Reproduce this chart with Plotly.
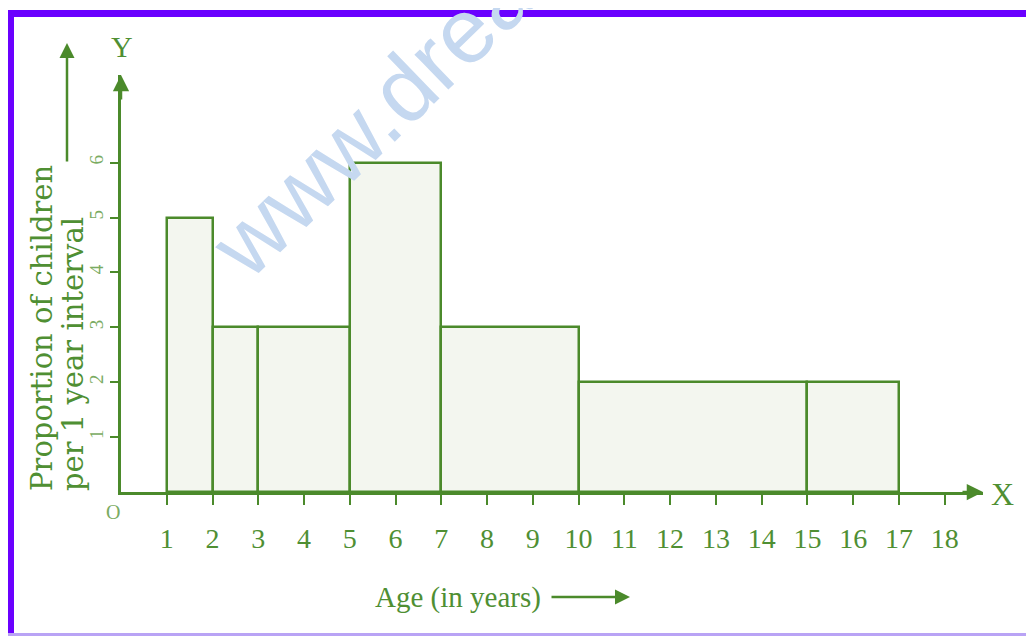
import plotly.graph_objects as go

# ---- data ----
class_start = [1, 2, 3, 5, 7, 10, 15]
class_end = [2, 3, 5, 7, 10, 15, 17]
proportion = [5, 3, 3, 6, 3, 2, 2]
x_ticks = list(range(1, 19))
y_ticks = [1, 2, 3, 4, 5, 6]

GREEN = "#4b8a2b"
TEXT_GREEN = "#4f8f33"
LIGHT_GREEN = "#7aab62"
FILL = "#f3f6ef"
PURPLE = "#6a00ff"
WATER = "#c5d8f0"

OFF = 8  # page body margin in the browser
W, H = 1034 - OFF, 636 - OFF
# plot area in screen (reference) pixels
SX0, SX1, SY0, SY1 = 121, 983, 75, 492
L = SX0 - OFF
T = SY0 - OFF
R = W - (SX1 - OFF)
B = H - (SY1 - OFF)
PW, PH = W - L - R, H - T - B
UX = 45.76
UY = 54.9
XMAX = PW / UX
YMAX = PH / UY


def px(x):
    return (x - SX0) / PW


def py(y):
    return (SY1 - y) / PH


centers = [(a + b) / 2 for a, b in zip(class_start, class_end)]
widths = [b - a for a, b in zip(class_start, class_end)]

fig = go.Figure()
fig.add_trace(go.Bar(
    x=centers, y=proportion, width=widths,
    marker=dict(color=FILL, line=dict(color=GREEN, width=2.5)),
    hoverinfo="skip", showlegend=False,
))

serif = "Liberation Serif"

fig.update_layout(
    width=W, height=H,
    margin=dict(l=L, r=R, t=T, b=B, pad=0, autoexpand=False),
    paper_bgcolor="white", plot_bgcolor="white",
    bargap=0,
    xaxis=dict(
        range=[0, XMAX], tickvals=x_ticks, ticktext=[str(v) for v in x_ticks],
        showgrid=False, zeroline=False, showline=True, linecolor=GREEN, linewidth=2.5,
        ticks="outside", ticklen=10, tickwidth=2, tickcolor=GREEN,
        tickfont=dict(family=serif, size=28, color=TEXT_GREEN),
        ticklabelstandoff=10, automargin=False,
    ),
    yaxis=dict(
        range=[0, YMAX], tickvals=y_ticks, ticktext=[str(v) for v in y_ticks],
        showgrid=False, zeroline=False, showline=True, linecolor=GREEN, linewidth=2.5,
        ticks="outside", ticklen=8, tickwidth=2, tickcolor=GREEN,
        tickangle=-90,
        tickfont=dict(family=serif, size=19, color=LIGHT_GREEN),
        ticklabelstandoff=0, automargin=False,
    ),
)


def label(xs, ys, text, size, color=TEXT_GREEN, family=serif, angle=0, xa="center", ya="middle"):
    return dict(x=px(xs), y=py(ys), xref="paper", yref="paper", text=text, showarrow=False,
                textangle=angle, xanchor=xa, yanchor=ya,
                font=dict(family=family, size=size, color=color))


def arrow(xs, ys, ax, ay):
    return dict(x=px(xs), y=py(ys), xref="paper", yref="paper", ax=ax, ay=ay, text="",
                showarrow=True, arrowhead=2, arrowsize=1.2, arrowwidth=2.5, arrowcolor=GREEN)


ann = []
# axis arrowheads
ann.append(dict(x=XMAX, y=0, xref="x", yref="y", ax=-22, ay=0, text="",
                showarrow=True, arrowhead=2, arrowsize=1.3, arrowwidth=2.5, arrowcolor=GREEN))
ann.append(dict(x=0, y=YMAX, xref="x", yref="y", ax=0, ay=26, text="",
                showarrow=True, arrowhead=2, arrowsize=1.3, arrowwidth=2.5, arrowcolor=GREEN))
# axis letters
ann.append(label(122, 47, "Y", 30))
ann.append(label(1002, 494, "X", 32))
ann.append(label(113, 512, "O", 20, color=LIGHT_GREEN))
# x title and its arrow
ann.append(label(458, 597, "Age (in years)", 29))
ann.append(arrow(630, 597, -80, 0))
# y title (two lines) and its arrow
ann.append(label(42, 493, "Proportion of children", 29, family="DejaVu Serif", angle=-90, ya="bottom"))
ann.append(label(73, 493, "per 1 year interval", 29, family="DejaVu Serif", angle=-90, ya="bottom"))
ann.append(arrow(67, 43, 0, 120))
# watermark
ann.append(label(372, 119, "www.drea", 92, color=WATER, family="Liberation Sans", angle=-44))
fig.update_layout(annotations=ann)

# purple frame
shapes = [
    dict(type="rect", xref="paper", yref="paper", x0=px(0), x1=px(1040), y0=py(17), y1=py(10),
         fillcolor=PURPLE, line=dict(width=0), layer="above"),
    dict(type="rect", xref="paper", yref="paper", x0=px(0), x1=px(14), y0=py(640), y1=py(10),
         fillcolor=PURPLE, line=dict(width=0), layer="above"),
    dict(type="rect", xref="paper", yref="paper", x0=px(6), x1=px(1040), y0=py(636), y1=py(633),
         fillcolor="#b9a3f5", line=dict(width=0), layer="above"),
]
fig.update_layout(shapes=shapes)

fig.write_html("out.html")
